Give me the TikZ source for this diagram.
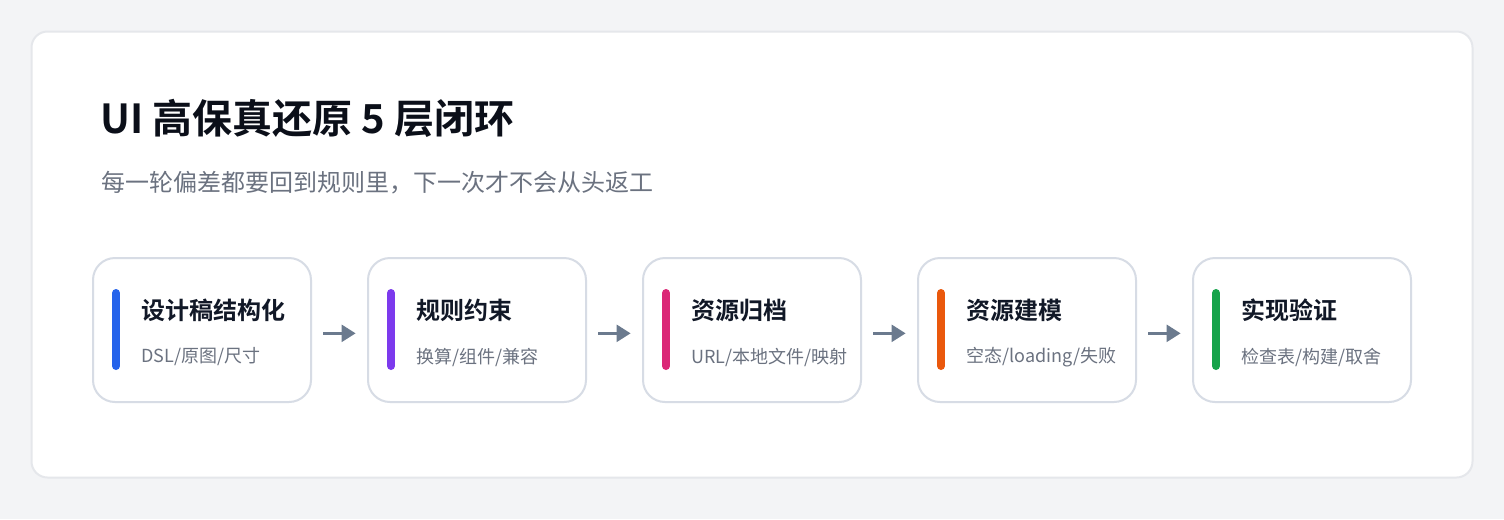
\documentclass[tikz,border=0pt]{standalone}
\usepackage{fontspec}
\setmainfont{Noto Sans CJK SC}
\newfontfamily\cjkb{Noto Sans CJK SC Bold}
\usetikzlibrary{arrows.meta}
\definecolor{pagebg}{HTML}{F3F4F6}
\definecolor{cardline}{HTML}{E5E7EB}
\definecolor{boxline}{HTML}{D7DCE5}
\definecolor{titlec}{HTML}{0B0F19}
\definecolor{boxtitlec}{HTML}{111827}
\definecolor{subc}{HTML}{6B7280}
\definecolor{arrowc}{HTML}{6B7A8E}
\definecolor{cblue}{HTML}{2563EB}
\definecolor{cpurple}{HTML}{7C3AED}
\definecolor{cpink}{HTML}{DB2777}
\definecolor{corange}{HTML}{EA580C}
\definecolor{cgreen}{HTML}{16A34A}
\tikzset{
  stepbox/.style={draw=boxline, line width=1.5pt, fill=white, rounded corners=16.5pt, minimum width=163.5pt, minimum height=108pt, inner sep=0pt},
  bar/.style={line width=6pt, line cap=round},
  boxtitle/.style={anchor=west, inner sep=0pt, text=boxtitlec, font=\cjkb\fontsize{18pt}{22pt}\selectfont},
  boxsub/.style={anchor=west, inner sep=0pt, text=subc, font=\fontsize{13.5pt}{16pt}\selectfont},
  flow/.style={draw=arrowc, line width=2.4pt, shorten <=8.5pt, shorten >=8.5pt, -{Triangle[length=10.5pt,width=12.5pt]}},
}
\begin{document}
\begin{tikzpicture}[x=0.75pt,y=-0.75pt]
\useasboundingbox (0,0) rectangle (1504,519);
\fill[pagebg] (0,0) rectangle (1504,519);
\draw[cardline, fill=white, line width=1.5pt, rounded corners=12pt] (31.5,31.5) rectangle (1472.5,477.5);
\node[anchor=west, inner sep=0pt, text=titlec, font=\cjkb\fontsize{30pt}{36pt}\selectfont] (title) at (100,118) {UI 高保真还原 5 层闭环};
\node[anchor=west, inner sep=0pt, text=subc, font=\fontsize{18pt}{22pt}\selectfont] (subtitle) at (101,183) {每一轮偏差都要回到规则里，下一次才不会从头返工};
\foreach \i/\t/\s/\c in {1/设计稿结构化/DSL\slash 原图\slash 尺寸/cblue, 2/规则约束/换算\slash 组件\slash 兼容/cpurple, 3/资源归档/URL\slash 本地文件\slash 映射/cpink, 4/资源建模/空态\slash loading\slash 失败/corange, 5/实现验证/检查表\slash 构建\slash 取舍/cgreen}{
  \node[stepbox] (b\i) at ({202+275*(\i-1)},330) {};
  \draw[bar, \c] ([xshift=18pt,yshift=-27pt]b\i.north west) coordinate (bt\i) -- ([xshift=18pt,yshift=27.75pt]b\i.south west) coordinate (bb\i);
  \node[boxtitle] (t\i) at ({141+275*(\i-1)},310) {\t};
  \node[boxsub] (s\i) at ({141+275*(\i-1)},357) {\s};
}
\foreach \i/\j in {1/2,2/3,3/4,4/5}{
  \draw[flow] ([yshift=-2.5pt]b\i.east) -- ([yshift=-2.5pt]b\j.west);
}
\end{tikzpicture}
\end{document}
